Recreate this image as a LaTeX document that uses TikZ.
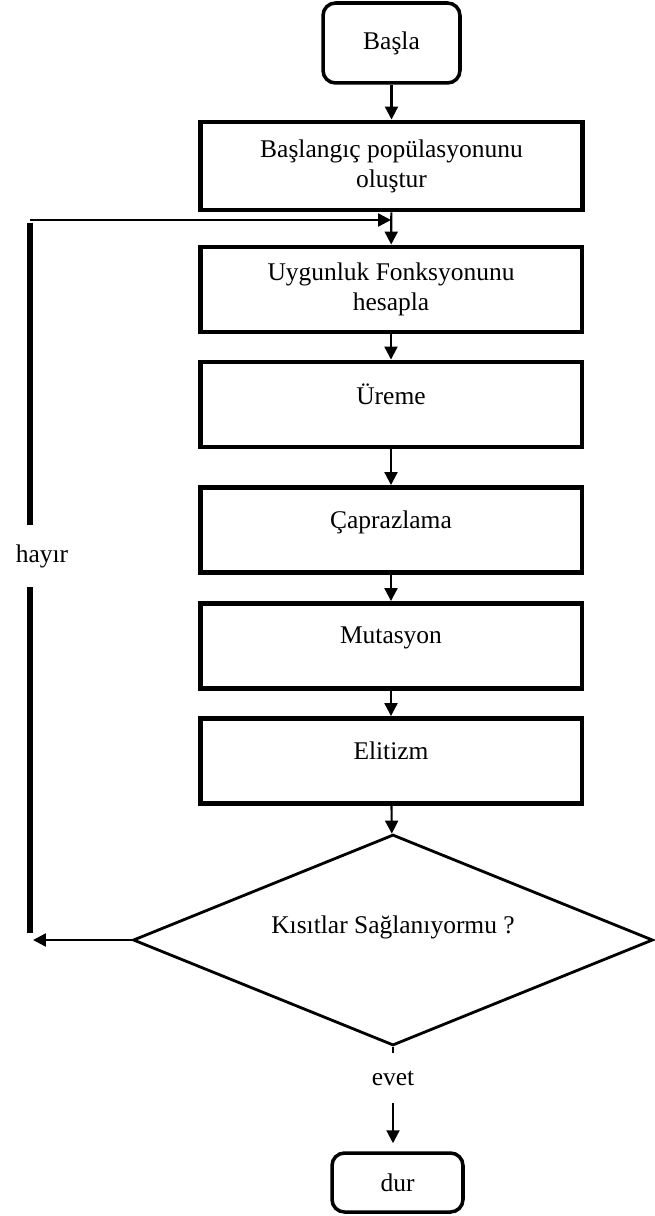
\documentclass[tikz,border=0pt]{standalone}
\usepackage{fontspec}
\setmainfont{Liberation Serif}
\usetikzlibrary{shapes.geometric,arrows.meta}

\begin{document}
\begin{tikzpicture}[x=0.02cm,y=-0.02cm,
    font=\fontsize{14.5}{17}\selectfont,
    >={Triangle[length=0.26cm,width=0.26cm]},
    terminal/.style={draw,rounded corners=0.25cm,line width=2pt},
    process/.style={draw,line width=2.8pt,minimum width=7.64cm,minimum height=1.7cm,align=center},
    raised/.style={text depth=0.42cm},
    decision/.style={draw,diamond,aspect=2.46,line width=1.6pt,minimum width=10.4cm,minimum height=4.22cm,inner sep=0pt},
    flow/.style={->,line width=1.2pt},
    loopline/.style={line width=3.6pt}]

  \useasboundingbox (0,0) rectangle (654,1216);

  % main column
  \node[terminal,minimum width=2.74cm,minimum height=1.6cm] (basla) at (391.5,43) {Başla};
  \node[process,minimum height=1.76cm] (populasyon) at (391.5,166) {Başlangıç popülasyonunu\\oluştur};
  \node[process] (uygunluk) at (391,289.5) {Uygunluk Fonksyonunu\\hesapla};
  \node[process,raised] (ureme) at (391,404.5) {Üreme};
  \node[process,raised] (caprazlama) at (391,530) {Çaprazlama};
  \node[process,raised] (mutasyon) at (391,646) {Mutasyon};
  \node[process,raised] (elitizm) at (391,761) {Elitizm};
  \node[decision,text depth=0.62cm] (karar) at (393,940) {Kısıtlar Sağlanıyormu ?};
  \node[minimum height=1cm] (evet) at (393,1078) {evet};
  \node[terminal,minimum width=2.62cm,minimum height=1.18cm] (dur) at (397.5,1182.5) {dur};

  \draw[flow] (basla) -- (populasyon);
  \draw[flow] (populasyon) -- (uygunluk);
  \draw[flow] (uygunluk) -- (ureme);
  \draw[flow] (ureme) -- (caprazlama);
  \draw[flow] (caprazlama) -- (mutasyon);
  \draw[flow] (mutasyon) -- (elitizm);
  \draw[flow] (elitizm) -- (karar);
  \draw[line width=1.6pt] (karar.south) -- (evet);
  \draw[flow,shorten >=0.16cm] (evet) -- (evet |- dur.north);

  % feedback loop
  \coordinate (donus) at (33,940);
  \coordinate (solalt) at (30,933);
  \coordinate (solust) at (30,223);
  \coordinate (ust) at (30,220);
  \coordinate (birles) at (391,220);
  \node[minimum height=1.24cm] (hayir) at (42,556) {hayır};

  \draw[flow,line width=1.4pt] (karar.west) -- (donus);
  \draw[loopline] (solalt) -- (solalt |- hayir.south);
  \draw[loopline] (solust |- hayir.north) -- (solust);
  \draw[flow,line width=1.4pt] (ust) -- (birles);
\end{tikzpicture}
\end{document}
